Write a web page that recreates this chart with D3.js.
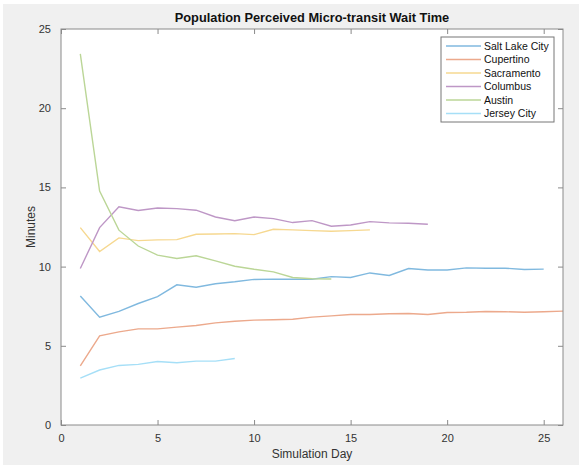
<!DOCTYPE html>
<html>
<head>
<meta charset="utf-8">
<script src="https://cdn.jsdelivr.net/npm/d3@7"></script>
<style>
  body { margin: 0; background: #fff; }
  text { font-family: "Liberation Sans", Arial, sans-serif; }
</style>
</head>
<body>
<div id="chart"></div>
<script>
// DATA ------------------------------
const cities = ["Salt Lake City", "Cupertino", "Sacramento", "Columbus", "Austin", "Jersey City"];
const colors = ["#80b9df", "#eca98c", "#f6d890", "#be97c6", "#bbd697", "#a6dff7"];

const saltLakeCity = [8.15, 6.81, 7.17, 7.67, 8.11, 8.85, 8.7, 8.92, 9.04, 9.19, 9.21, 9.2, 9.2, 9.37, 9.31, 9.6, 9.44, 9.88, 9.79, 9.79, 9.92, 9.9, 9.9, 9.82, 9.84];
const cupertino = [3.74, 5.63, 5.88, 6.07, 6.07, 6.18, 6.28, 6.45, 6.55, 6.62, 6.64, 6.68, 6.81, 6.89, 6.98, 6.98, 7.02, 7.04, 6.98, 7.1, 7.12, 7.17, 7.15, 7.12, 7.15, 7.19];
const sacramento = [12.46, 10.95, 11.81, 11.64, 11.69, 11.7, 12.04, 12.06, 12.08, 12.02, 12.36, 12.32, 12.27, 12.23, 12.27, 12.32];
const columbus = [9.88, 12.46, 13.77, 13.54, 13.7, 13.66, 13.56, 13.13, 12.9, 13.13, 13.03, 12.78, 12.9, 12.55, 12.63, 12.84, 12.76, 12.74, 12.67];
const austin = [23.43, 14.77, 12.3, 11.3, 10.72, 10.51, 10.68, 10.36, 10.02, 9.83, 9.67, 9.31, 9.23, 9.22];
const jerseyCity = [2.96, 3.47, 3.76, 3.83, 4.01, 3.93, 4.03, 4.03, 4.2];

const xTicks = [0, 5, 10, 15, 20, 25];
const yTicks = [0, 5, 10, 15, 20, 25];

const series = [saltLakeCity, cupertino, sacramento, columbus, austin, jerseyCity];

// CHART INIT ------------------------------
const W = 579, H = 465;
const margin = ({top: 29, right: 16, bottom: 40, left: 61});
const width = W - margin.left - margin.right;
const height = H - margin.top - margin.bottom;

const root = d3.select("#chart").append("svg")
  .attr("width", W)
  .attr("height", H);

// figure background
root.append("rect")
  .attr("x", 3).attr("y", 4)
  .attr("width", W - 3).attr("height", H - 4)
  .attr("fill", "#f0f0f0");

const svg = root.append("g")
  .attr("transform", "translate(" + margin.left + "," + margin.top + ")");

svg.append("rect")
  .attr("width", width).attr("height", height)
  .attr("fill", "#fff");

const xScale = d3.scaleLinear().domain([0, 26]).range([0, width]);
const yScale = d3.scaleLinear().domain([0, 25]).range([height, 0]);

const axisColor = "#8a8a8a";
const labelColor = "#333";

function styleAxis(g, showLabels) {
  g.select(".domain").remove();
  g.selectAll(".tick line").attr("stroke", axisColor);
  g.selectAll(".tick text")
    .attr("fill", labelColor)
    .style("font-size", "11px")
    .style("display", showLabels ? null : "none");
}

// ticks point inward, mirrored on top and right
svg.append("g")
  .attr("transform", "translate(0," + height + ")")
  .call(d3.axisBottom(xScale).tickValues(xTicks).tickSizeInner(-5).tickPadding(9))
  .call(g => styleAxis(g, true));

svg.append("g")
  .call(d3.axisTop(xScale).tickValues(xTicks).tickSizeInner(-5))
  .call(g => styleAxis(g, false));

svg.append("g")
  .call(d3.axisLeft(yScale).tickValues(yTicks).tickSizeInner(-5).tickPadding(10))
  .call(g => styleAxis(g, true));

svg.append("g")
  .attr("transform", "translate(" + width + ",0)")
  .call(d3.axisRight(yScale).tickValues(yTicks).tickSizeInner(-5))
  .call(g => styleAxis(g, false));

// lines
const line = d3.line()
  .x((d, i) => xScale(i + 1))
  .y(d => yScale(d));

svg.selectAll(".series")
  .data(series)
  .enter()
  .append("path")
  .attr("class", "series")
  .attr("d", d => line(d))
  .attr("fill", "none")
  .attr("stroke", (d, i) => colors[i])
  .attr("stroke-width", 1.4);

// box
svg.append("rect")
  .attr("width", width).attr("height", height)
  .attr("fill", "none")
  .attr("stroke", axisColor)
  .attr("stroke-width", 1);

// titles
svg.append("text")
  .attr("x", width / 2)
  .attr("y", -7)
  .attr("text-anchor", "middle")
  .attr("fill", "#111")
  .style("font-size", "12.8px")
  .style("font-weight", "bold")
  .text("Population Perceived Micro-transit Wait Time");

svg.append("text")
  .attr("x", width / 2)
  .attr("y", height + 33)
  .attr("text-anchor", "middle")
  .attr("fill", labelColor)
  .style("font-size", "12px")
  .text("Simulation Day");

svg.append("text")
  .attr("transform", "translate(-26," + (height / 2) + ") rotate(-90)")
  .attr("text-anchor", "middle")
  .attr("fill", labelColor)
  .style("font-size", "12px")
  .text("Minutes");

// legend
const legend = svg.append("g")
  .attr("transform", "translate(" + (441 - margin.left) + "," + (37 - margin.top) + ")");

legend.append("rect")
  .attr("width", 113).attr("height", 85)
  .attr("fill", "#fff")
  .attr("stroke", "#777")
  .attr("stroke-width", 1);

const rows = legend.selectAll(".row")
  .data(cities)
  .enter()
  .append("g")
  .attr("transform", (d, i) => "translate(0," + (9 + i * 13.5) + ")");

rows.append("line")
  .attr("x1", 5).attr("x2", 40)
  .attr("stroke", (d, i) => colors[i])
  .attr("stroke-width", 1.4);

rows.append("text")
  .attr("x", 43)
  .attr("dy", "0.35em")
  .attr("fill", "#111")
  .style("font-size", "10.5px")
  .text(d => d);
</script>
</body>
</html>
